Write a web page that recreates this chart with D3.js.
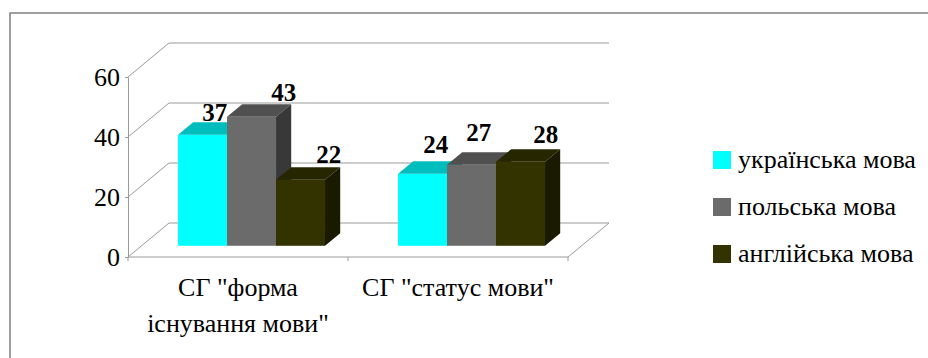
<!DOCTYPE html>
<html><head><meta charset="utf-8">
<script src="https://cdn.jsdelivr.net/npm/d3@7/dist/d3.min.js"></script>
<style>body{margin:0;background:#fff}svg{display:block}</style>
</head><body>
<svg id="c" width="928" height="358"></svg>
<script>
const categories = [['СГ "форма', 'існування мови"'], ['СГ "статус мови"']];
const seriesNames = ['українська мова', 'польська мова', 'англійська мова'];
const values = [[37, 24], [43, 27], [22, 28]]; // per series, per category
const yTicks = [0, 20, 40, 60];
// manual nudges of data labels (dx, dy), as dragged in original
const labelNudge = [[[-3, 2], [-2, -5]], [[17, 0], [-8, -8]], [[13, -1], [10, -3]]];

const frontCol = ['#00FFFF', '#6B6B6B', '#333300'];
const topCol = ['#00BDBD', '#505050', '#262600'];
const sideCol = ['#00A0A0', '#383838', '#1A1A00'];

const svg = d3.select('#c');
const font = 'Liberation Serif';
const DX = 41, DY = -34;          // full depth offset
const fF = 0.33, fB = 0.37;       // bar front depth fraction, bar depth fraction

const y = d3.scaleLinear().domain([0, 60]).range([257, 77]);
const catIdx = categories.map((c, i) => i);
const x0 = d3.scaleBand().domain(catIdx).range([128, 568]);
const x1 = d3.scaleBand().domain(d3.range(seriesNames.length)).range([0, x0.bandwidth()]).paddingInner(0).paddingOuter(0.745);

// outer frame
svg.append('path').attr('d', 'M10,358V13H928').attr('fill', 'none').attr('stroke', '#808080').attr('stroke-width', 1.5);

const grid = svg.append('g').attr('stroke', '#9a9a9a').attr('stroke-width', 1).attr('fill', 'none');
const xL = x0.range()[0], xR = x0.range()[1];
yTicks.forEach(t => {
  grid.append('path').attr('d', `M${xL},${y(t)}L${xL + DX},${y(t) + DY}H${xR + DX}`);
});
// floor
grid.append('path').attr('d', `M${xL},${y(0)}H${xR}L${xR + DX},${y(0) + DY}`);
// category boundary ticks
[xL, x0(1), xR].forEach(xx => grid.append('path').attr('d', `M${xx},${y(0)}v4`));

// y axis
const yAxis = svg.append('g').attr('transform', `translate(${xL},0)`)
  .call(d3.axisLeft(y).tickValues(yTicks).tickSize(3).tickSizeOuter(0).tickPadding(5));
yAxis.attr('font-family', null).attr('font-size', null);
yAxis.selectAll('path,line').attr('stroke', '#9a9a9a');
yAxis.selectAll('text').style('font-family', font).style('font-size', '26px').attr('fill', '#000').attr('dy', '0.33em');

// bars
const fdx = DX * fF, fdy = DY * fF, bdx = DX * fB, bdy = DY * fB;
const bars = svg.append('g');
catIdx.forEach(ci => {
  seriesNames.forEach((s, si) => {
    const v = values[si][ci];
    const xa = x0(ci) + x1(si) + fdx, w = x1.bandwidth();
    const yb = y(0) + fdy, yt = y(v) + fdy;
    bars.append('rect').attr('x', xa).attr('y', yt).attr('width', w).attr('height', yb - yt).attr('fill', frontCol[si]);
    bars.append('path').attr('d', `M${xa},${yt}L${xa + bdx},${yt + bdy}H${xa + w + bdx}L${xa + w},${yt}Z`).attr('fill', topCol[si]);
    bars.append('path').attr('d', `M${xa + w},${yt}L${xa + w + bdx},${yt + bdy}V${yb + bdy}L${xa + w},${yb}Z`).attr('fill', sideCol[si]);
  });
});
// labels
catIdx.forEach(ci => {
  seriesNames.forEach((s, si) => {
    const v = values[si][ci];
    const cx = x0(ci) + x1(si) + fdx + x1.bandwidth() / 2 + bdx;
    const ty = y(v) + fdy + bdy - 3;
    svg.append('text').attr('x', cx + labelNudge[si][ci][0]).attr('y', ty + labelNudge[si][ci][1])
      .attr('text-anchor', 'middle').style('font-family', font).style('font-size', '25px').style('font-weight', 'bold')
      .text(v);
  });
});

// category labels
categories.forEach((lines, ci) => {
  const t = svg.append('text').attr('text-anchor', 'middle').style('font-family', font).style('font-size', '26px');
  lines.forEach((ln, li) => t.append('tspan').attr('x', x0(ci) + x0.bandwidth() / 2).attr('y', 296 + li * 36).text(ln));
});

// legend
const lg = svg.append('g').attr('transform', 'translate(713,160)');
seriesNames.forEach((s, si) => {
  const g = lg.append('g').attr('transform', `translate(0,${si * 47})`);
  g.append('rect').attr('x', 0).attr('y', -9).attr('width', 18).attr('height', 18).attr('fill', frontCol[si]);
  g.append('text').attr('x', 25).attr('y', 8).style('font-family', font).style('font-size', '26px').text(s);
});
</script>
</body></html>
